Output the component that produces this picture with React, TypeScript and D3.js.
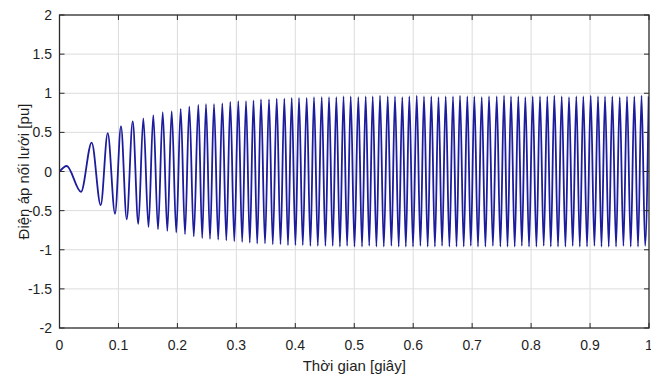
import React from 'react';
import * as d3 from 'd3';

const xTicks = [0, 0.1, 0.2, 0.3, 0.4, 0.5, 0.6, 0.7, 0.8, 0.9, 1];
const xTickLabels = ['0', '0.1', '0.2', '0.3', '0.4', '0.5', '0.6', '0.7', '0.8', '0.9', '1'];
const yTicks = [-2, -1.5, -1, -0.5, 0, 0.5, 1, 1.5, 2];
const yTickLabels = ['-2', '-1.5', '-1', '-0.5', '0', '0.5', '1', '1.5', '2'];

const xTitle = 'Thời gian [giây]';
const yTitle = 'Điện áp nối lưới [pu]';

// start of the trace
const startT = 0;
const startV = 0;

// local maxima of the waveform (time in s, value in pu)
const peakT = [
  0.0122, 0.0546, 0.0818, 0.1043, 0.1242, 0.1422, 0.1591, 0.1751, 0.1903, 0.2056,
  0.2202, 0.2355, 0.2485, 0.2621, 0.2762, 0.2897, 0.3033, 0.3164, 0.3291, 0.3418,
  0.3554, 0.3685, 0.3814, 0.3939, 0.4063, 0.4193, 0.4317, 0.4448, 0.4572, 0.4696,
  0.4818, 0.4940, 0.5069, 0.5194, 0.5313, 0.5437, 0.5568, 0.5691, 0.5815, 0.5934,
  0.6060, 0.6183, 0.6307, 0.6429, 0.6551, 0.6675, 0.6794, 0.6918, 0.7037, 0.7162,
  0.7286, 0.7417, 0.7541, 0.7659, 0.7783, 0.7902, 0.8027, 0.8151, 0.8275, 0.8394,
  0.8519, 0.8643, 0.8767, 0.8886, 0.9011, 0.9135, 0.9254, 0.9378, 0.9503, 0.9627,
  0.9751, 0.9873, 0.9995,
];
const peakV = [
  0.07, 0.37, 0.49, 0.58, 0.64, 0.68, 0.72, 0.76, 0.77, 0.80,
  0.83, 0.85, 0.86, 0.86, 0.87, 0.89, 0.90, 0.90, 0.91, 0.92,
  0.92, 0.93, 0.93, 0.94, 0.94, 0.94, 0.95, 0.95, 0.95, 0.95,
  0.96, 0.96, 0.95, 0.96, 0.96, 0.97, 0.96, 0.96, 0.95, 0.96,
  0.97, 0.96, 0.96, 0.95, 0.96, 0.96, 0.97, 0.96, 0.96, 0.95,
  0.96, 0.96, 0.97, 0.96, 0.96, 0.95, 0.96, 0.96, 0.96, 0.97,
  0.96, 0.95, 0.96, 0.96, 0.97, 0.96, 0.96, 0.96, 0.95, 0.96,
  0.96, 0.97, 0.96,
];

// local minima of the waveform
const troughT = [
  0.0365, 0.0699, 0.0942, 0.1140, 0.1337, 0.1510, 0.1671, 0.1829, 0.1981, 0.2129,
  0.2278, 0.2421, 0.2553, 0.2692, 0.2830, 0.2965, 0.3099, 0.3228, 0.3354, 0.3486,
  0.3618, 0.3749, 0.3876, 0.4002, 0.4127, 0.4256, 0.4382, 0.4511, 0.4635, 0.4757,
  0.4879, 0.5004, 0.5132, 0.5254, 0.5376, 0.5501, 0.5630, 0.5754, 0.5875, 0.5997,
  0.6122, 0.6246, 0.6368, 0.6490, 0.6614, 0.6735, 0.6857, 0.6977, 0.7099, 0.7225,
  0.7352, 0.7479, 0.7600, 0.7722, 0.7843, 0.7965, 0.8090, 0.8214, 0.8334, 0.8457,
  0.8582, 0.8706, 0.8826, 0.8949, 0.9074, 0.9194, 0.9317, 0.9441, 0.9566, 0.9690,
  0.9814, 0.9934,
];
const troughV = [
  -0.26, -0.43, -0.54, -0.61, -0.67, -0.71, -0.74, -0.76, -0.78, -0.80,
  -0.83, -0.85, -0.86, -0.87, -0.88, -0.89, -0.90, -0.91, -0.92, -0.92,
  -0.93, -0.93, -0.94, -0.94, -0.94, -0.95, -0.95, -0.95, -0.95, -0.96,
  -0.95, -0.96, -0.96, -0.95, -0.96, -0.96, -0.95, -0.96, -0.96, -0.96,
  -0.95, -0.96, -0.96, -0.95, -0.96, -0.96, -0.96, -0.95, -0.96, -0.96,
  -0.95, -0.96, -0.96, -0.96, -0.95, -0.96, -0.96, -0.95, -0.96, -0.96,
  -0.96, -0.95, -0.96, -0.96, -0.95, -0.96, -0.96, -0.96, -0.95, -0.96,
  -0.96, -0.95,
];

type Pt = { t: number; v: number };

export default function App() {
  const W = 651;
  const H = 374;
  const left = 59.5;
  const right = 649;
  const top = 15;
  const bottom = 328;

  const x = d3.scaleLinear().domain([0, 1]).range([left, right]);
  const y = d3.scaleLinear().domain([-2, 2]).range([bottom, top]);

  const pts: Pt[] = [
    { t: startT, v: startV },
    ...peakT.map((t, i) => ({ t, v: peakV[i] })),
    ...troughT.map((t, i) => ({ t, v: troughV[i] })),
  ].sort((a, b) => a.t - b.t);

  const line = d3
    .line<Pt>()
    .x((d) => x(d.t))
    .y((d) => y(d.v))
    .curve(d3.curveMonotoneX);

  const font = '"Liberation Sans", Arial, Helvetica, sans-serif';
  const textColor = '#1e1e1e';
  const gridColor = '#dcdcdc';
  const axisColor = '#2a2a2a';
  const tickLen = 5;

  return (
    <svg
      width={W}
      height={H}
      viewBox={`0 0 ${W} ${H}`}
      style={{ position: 'absolute', left: 0, top: 0, background: '#fff' }}
    >
      <defs>
        <clipPath id="plotClip">
          <rect x={left} y={top} width={right - left} height={bottom - top} />
        </clipPath>
      </defs>
      <rect x={0} y={0} width={W} height={H} fill="#fff" />

      {/* grid */}
      <g stroke={gridColor} strokeWidth={1}>
        {xTicks.slice(1, -1).map((t) => (
          <line key={'gx' + t} x1={x(t)} x2={x(t)} y1={top} y2={bottom} />
        ))}
        {yTicks.slice(1, -1).map((t) => (
          <line key={'gy' + t} x1={left} x2={right} y1={y(t)} y2={y(t)} />
        ))}
      </g>

      {/* waveform */}
      <path
        d={line(pts) || ''}
        fill="none"
        stroke="#1c1c9c"
        strokeWidth={1.8}
        strokeLinejoin="round"
        clipPath="url(#plotClip)"
      />

      {/* frame */}
      <rect
        x={left}
        y={top}
        width={right - left}
        height={bottom - top}
        fill="none"
        stroke={axisColor}
        strokeWidth={1.3}
      />

      {/* ticks */}
      <g stroke={axisColor} strokeWidth={1}>
        {xTicks.map((t) => (
          <g key={'tx' + t}>
            <line x1={x(t)} x2={x(t)} y1={bottom} y2={bottom - tickLen} />
            <line x1={x(t)} x2={x(t)} y1={top} y2={top + tickLen} />
          </g>
        ))}
        {yTicks.map((t) => (
          <g key={'ty' + t}>
            <line x1={left} x2={left + tickLen} y1={y(t)} y2={y(t)} />
            <line x1={right} x2={right - tickLen} y1={y(t)} y2={y(t)} />
          </g>
        ))}
      </g>

      {/* tick labels */}
      <g fontFamily={font} fontSize={14} fill={textColor}>
        {xTicks.map((t, i) => (
          <text key={'lx' + t} x={x(t)} y={350} textAnchor="middle">
            {xTickLabels[i]}
          </text>
        ))}
        {yTicks.map((t, i) => (
          <text key={'ly' + t} x={52} y={y(t)} dy="0.36em" textAnchor="end">
            {yTickLabels[i]}
          </text>
        ))}
      </g>

      {/* axis titles */}
      <text
        x={x(0.5)}
        y={371}
        textAnchor="middle"
        fontFamily={font}
        fontSize={15}
        fill={textColor}
      >
        {xTitle}
      </text>
      <text
        transform={`translate(29, ${y(0)}) rotate(-90)`}
        textAnchor="middle"
        fontFamily={font}
        fontSize={15}
        fill={textColor}
      >
        {yTitle}
      </text>
    </svg>
  );
}
